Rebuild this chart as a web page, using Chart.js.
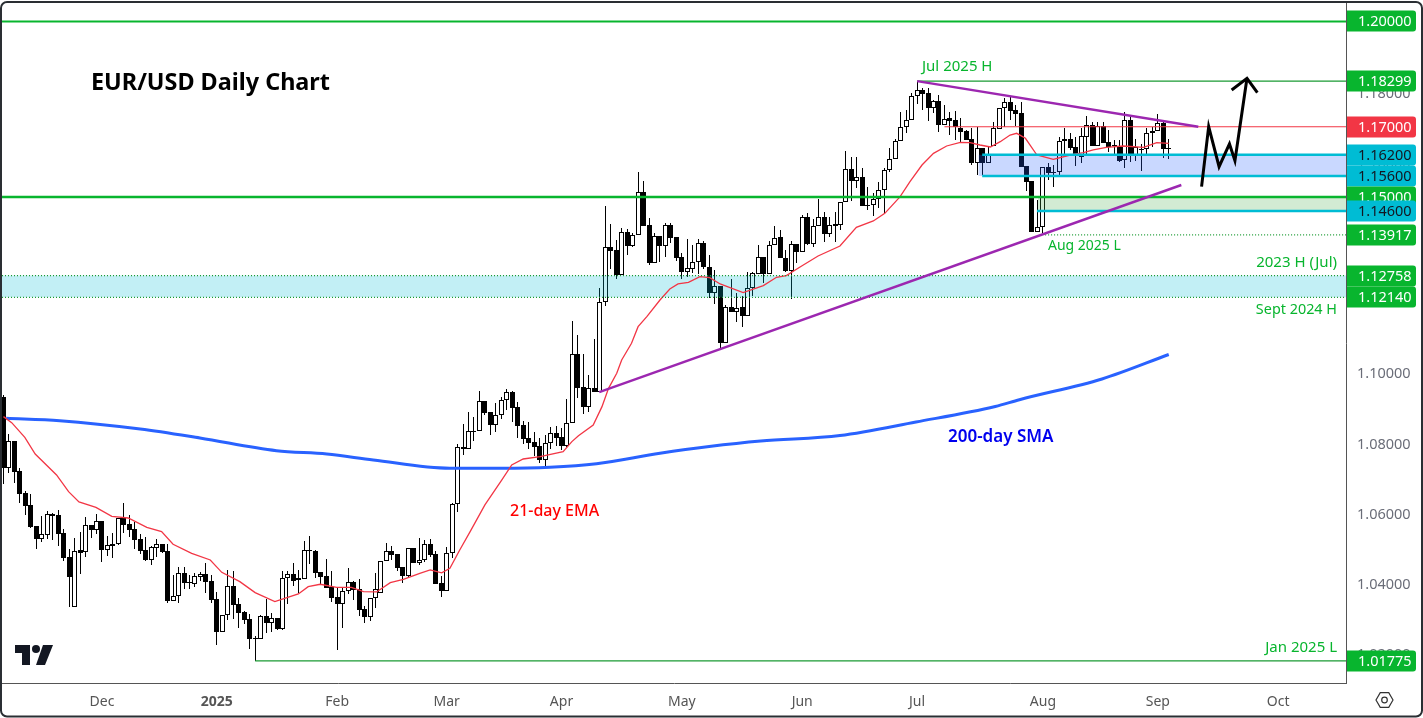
<!DOCTYPE html>
<html>
<head>
<meta charset="utf-8">
<title>EUR/USD Daily Chart</title>
<script src="https://cdn.jsdelivr.net/npm/chart.js@4"></script>
<style>
  html, body { margin: 0; padding: 0; background: #fff; }
  canvas { display: block; }
</style>
</head>
<body>
<canvas id="chart" width="1423" height="718"></canvas>
<script>
// daily candles
const opens = [
  1.09289,1.07265,1.08044,1.07189,1.06553,1.06211,1.05622,1.05261,1.05375,1.05954,
  1.05935,1.05413,1.04729,1.03304,1.04928,1.04871,1.05650,1.05517,1.05755,1.04947,
  1.05109,1.05099,1.05840,1.05679,1.05536,1.05251,1.04928,1.04662,1.05005,1.05109,
  1.04900,1.03494,1.03617,1.04273,1.04026,1.03978,1.04178,1.04254,1.04045,1.03541,
  1.02610,1.03076,1.03912,1.03390,1.03172,1.02972,1.02431,1.02412,1.03058,1.02868,
  1.03001,1.02697,1.04131,1.04245,1.04074,1.04122,1.04939,1.04910,1.04302,1.04188,
  1.03884,1.03590,1.03409,1.03761,1.04017,1.03818,1.03248,1.03039,1.03561,1.03723,
  1.04616,1.04901,1.04825,1.04445,1.04207,1.04986,1.04578,1.04644,1.05100,1.04825,
  1.03989,1.03761,1.04844,1.06250,1.07864,1.07807,1.08310,1.08320,1.09175,1.08862,
  1.08510,1.08776,1.09203,1.09431,1.09004,1.08491,1.08120,1.08006,1.07892,1.07512,
  1.07978,1.08263,1.08149,1.07911,1.08548,1.10524,1.09574,1.09023,1.09545,1.09450,
  1.11996,1.13564,1.13488,1.12785,1.13991,1.13611,1.13925,1.15131,1.14191,1.13127,
  1.13877,1.13611,1.14191,1.13849,1.13279,1.12870,1.12956,1.13136,1.13678,1.12994,
  1.12272,1.12452,1.10847,1.11854,1.11730,1.11854,1.11616,1.12395,1.12813,1.13279,
  1.12794,1.13621,1.13849,1.13250,1.12889,1.13659,1.13440,1.14419,1.13668,1.14162,
  1.14419,1.13934,1.14219,1.14210,1.14846,1.15806,1.15464,1.15578,1.14780,1.14780,
  1.14932,1.15188,1.15758,1.16072,1.16585,1.16984,1.17183,1.17867,1.18038,1.17953,
  1.17544,1.17734,1.17060,1.17250,1.17183,1.16974,1.16879,1.16651,1.15977,1.16385,
  1.15958,1.16452,1.16946,1.17525,1.17696,1.17468,1.17383,1.15872,1.15454,1.14010,
  1.14134,1.15844,1.15720,1.15720,1.16585,1.16642,1.16414,1.16129,1.16718,1.17041,
  1.16461,1.17012,1.16556,1.16442,1.16452,1.16043,1.17183,1.16167,1.16366,1.16357,
  1.16813,1.16870,1.17107,1.16385
];
const highs = [
  1.09355,1.08234,1.08044,1.07265,1.06610,1.06524,1.05622,1.05907,1.06049,1.06002,
  1.06068,1.05527,1.04966,1.05270,1.05441,1.05869,1.05650,1.05954,1.05755,1.05327,
  1.05413,1.05840,1.06277,1.05926,1.05745,1.05384,1.05299,1.05061,1.05251,1.05109,
  1.05109,1.04225,1.04444,1.04453,1.04225,1.04292,1.04320,1.04567,1.04216,1.03741,
  1.03076,1.04358,1.04339,1.03571,1.03200,1.03105,1.02488,1.03077,1.03533,1.03134,
  1.03001,1.04340,1.04340,1.04559,1.04369,1.05195,1.05338,1.04939,1.04302,1.04682,
  1.04331,1.03865,1.03846,1.04416,1.04055,1.04112,1.03343,1.03561,1.04283,1.04616,
  1.05129,1.05062,1.04825,1.04445,1.05005,1.04986,1.05271,1.05224,1.05252,1.04910,
  1.04198,1.05034,1.06269,1.07959,1.08519,1.08871,1.08738,1.09469,1.09175,1.08862,
  1.09118,1.09289,1.09526,1.09479,1.09165,1.08605,1.08586,1.08301,1.08120,1.08215,
  1.08434,1.08472,1.08405,1.09251,1.11464,1.11065,1.10514,1.09925,1.10951,1.12395,
  1.14742,1.14229,1.13773,1.14105,1.14077,1.13982,1.15701,1.15445,1.14390,1.13963,
  1.13877,1.14248,1.14248,1.13849,1.13393,1.13792,1.13630,1.13792,1.13754,1.13345,
  1.12918,1.12452,1.11920,1.12661,1.12262,1.12167,1.12851,1.12851,1.13630,1.13279,
  1.13744,1.14172,1.14058,1.13488,1.13744,1.13659,1.14485,1.14552,1.14362,1.14941,
  1.14580,1.14438,1.14561,1.14846,1.16300,1.16129,1.16129,1.15815,1.15274,1.15103,
  1.15416,1.15815,1.16385,1.16642,1.17430,1.17478,1.17972,1.18299,1.18095,1.18095,
  1.17763,1.17905,1.17620,1.17430,1.17459,1.17240,1.16908,1.16955,1.17003,1.16385,
  1.16452,1.17145,1.17525,1.17810,1.17839,1.17620,1.17696,1.15872,1.15454,1.14913,
  1.15863,1.15958,1.15910,1.16718,1.16955,1.16813,1.16718,1.16955,1.17307,1.17145,
  1.17126,1.17145,1.16908,1.16623,1.16623,1.17411,1.17288,1.16642,1.16509,1.16974,
  1.17003,1.17364,1.17145,1.16651
];
const lows = [
  1.06819,1.07142,1.06857,1.06287,1.05945,1.05555,1.04966,1.05175,1.05261,1.05223,
  1.05061,1.04624,1.03313,1.03304,1.04263,1.04748,1.05280,1.05394,1.04605,1.04776,
  1.04719,1.05080,1.05422,1.05299,1.04966,1.04824,1.04634,1.04520,1.04748,1.04843,
  1.03437,1.03484,1.03437,1.03826,1.03826,1.03893,1.04054,1.03722,1.03437,1.02240,
  1.02610,1.02943,1.02981,1.02725,1.02839,1.02127,1.01775,1.02393,1.02573,1.02611,
  1.02659,1.02668,1.03400,1.03913,1.03704,1.04122,1.04540,1.04150,1.03941,1.03865,
  1.03466,1.02098,1.02725,1.03685,1.03514,1.03058,1.02868,1.02925,1.03276,1.03723,
  1.04616,1.04654,1.04350,1.04008,1.04179,1.04559,1.04511,1.04606,1.04749,1.03979,
  1.03609,1.03761,1.04720,1.06031,1.07655,1.07807,1.08054,1.08320,1.08776,1.08225,
  1.08301,1.08681,1.08937,1.08595,1.08120,1.07968,1.07807,1.07617,1.07427,1.07341,
  1.07807,1.07902,1.07788,1.07883,1.08548,1.09260,1.08823,1.08880,1.09450,1.09450,
  1.11901,1.12956,1.12652,1.12785,1.13345,1.13583,1.13925,1.14181,1.13070,1.13127,
  1.13146,1.13298,1.13697,1.13175,1.12671,1.12728,1.12823,1.12804,1.12956,1.12120,
  1.11949,1.10685,1.10847,1.11730,1.11445,1.11303,1.11616,1.12186,1.12813,1.12538,
  1.12794,1.13621,1.13250,1.12870,1.12101,1.13108,1.13440,1.13630,1.13583,1.14162,
  1.13725,1.13868,1.13725,1.14058,1.14846,1.14894,1.15245,1.14742,1.14628,1.14466,
  1.14694,1.14533,1.15720,1.16072,1.16585,1.16813,1.17183,1.17639,1.17478,1.17174,
  1.17383,1.16860,1.17050,1.16765,1.16623,1.16575,1.16623,1.15910,1.15625,1.15625,
  1.15958,1.16452,1.16927,1.17003,1.17193,1.17031,1.15863,1.15160,1.14010,1.14010,
  1.13963,1.15483,1.15274,1.15625,1.16167,1.16338,1.15882,1.15958,1.16195,1.16452,
  1.16461,1.16528,1.16290,1.16195,1.16005,1.15834,1.16005,1.16034,1.15749,1.16224,
  1.16433,1.16870,1.16119,1.16081
];
const closes = [
  1.07265,1.08044,1.07170,1.06543,1.06201,1.05603,1.05261,1.05384,1.05954,1.05916,
  1.05403,1.04719,1.04178,1.04919,1.04862,1.05641,1.05517,1.05755,1.04947,1.05071,
  1.05061,1.05840,1.05660,1.05517,1.05232,1.04909,1.04653,1.05014,1.05099,1.04890,
  1.03494,1.03617,1.04273,1.04007,1.03988,1.04187,1.04244,1.04035,1.03522,1.02610,
  1.03076,1.03902,1.03380,1.03153,1.02953,1.02412,1.02412,1.03048,1.02868,1.02991,
  1.02697,1.04131,1.04245,1.04065,1.04131,1.04929,1.04920,1.04293,1.04179,1.03865,
  1.03580,1.03409,1.03761,1.04017,1.03808,1.03238,1.03039,1.03561,1.03818,1.04616,
  1.04901,1.04806,1.04435,1.04207,1.04986,1.04578,1.04654,1.05100,1.04806,1.03979,
  1.03761,1.04844,1.06240,1.07864,1.07807,1.08320,1.08329,1.09175,1.08852,1.08510,
  1.08776,1.09203,1.09431,1.08994,1.08481,1.08111,1.07987,1.07883,1.07512,1.07978,
  1.08263,1.08139,1.07911,1.08548,1.10514,1.09564,1.09023,1.09545,1.09450,1.11996,
  1.13564,1.13469,1.12785,1.13991,1.13611,1.13925,1.15131,1.14181,1.13127,1.13877,
  1.13611,1.14191,1.13839,1.13270,1.12870,1.12965,1.13136,1.13678,1.12994,1.12272,
  1.12452,1.10847,1.11854,1.11730,1.11844,1.11616,1.12395,1.12823,1.13279,1.12794,
  1.13621,1.13839,1.13250,1.12889,1.13649,1.13440,1.14419,1.13668,1.14162,1.14419,
  1.13934,1.14191,1.14181,1.14846,1.15806,1.15464,1.15578,1.14742,1.14761,1.14932,
  1.15188,1.15758,1.16072,1.16585,1.16984,1.17183,1.17867,1.18038,1.17943,1.17544,
  1.17725,1.17060,1.17231,1.17174,1.16993,1.16851,1.16632,1.15977,1.16385,1.15958,
  1.16205,1.16955,1.17525,1.17696,1.17459,1.17364,1.15863,1.15435,1.14010,1.14134,
  1.15844,1.15692,1.15692,1.16585,1.16642,1.16395,1.16224,1.16727,1.17041,1.16461,
  1.17012,1.16547,1.16433,1.16490,1.16034,1.17183,1.16167,1.16414,1.16347,1.16813,
  1.16870,1.17107,1.16376,1.16366
];

// 21-day EMA, read at these candle positions
const emaIdx = [0,1.5,3.9,5.8,9.7,11.9,13.8,16.9,19.8,22.8,26.2,28.9,31,34.4,37.8,39.9,43.2,46,49.6,53.9,55.7,57.9,60.9,63.6,65.8,68.2,70.7,73.1,76.1,78,80.1,81.6,83.4,85.3,88,91.1,92.9,95,98.1,102.3,103.9,105.1,107.8,109.4,110.6,112.1,113,114.8,116,117.6,120,121.8,123.3,125.2,127.3,129.1,131,135.2,138.9,141.3,143.1,145.9,148.9,152.9,155.9,159,161.1,163.9,165.7,167.9,170,172.4,174.9,176.7,178.5,180.4,182.2,184,185.2,186.8,188.9,191.9,195,197.4,199.2,201.6,204.7,208.4,210.8,213];
const emaVal = [1.08738,1.08567,1.08149,1.07674,1.07076,1.06601,1.06306,1.06154,1.05898,1.05850,1.05584,1.05461,1.05100,1.04843,1.04653,1.04301,1.04035,1.03723,1.03466,1.03685,1.03894,1.03961,1.03875,1.03875,1.03751,1.03742,1.04008,1.04103,1.04274,1.04369,1.04284,1.04416,1.04939,1.05462,1.06221,1.06933,1.07360,1.07531,1.07598,1.07740,1.08026,1.08196,1.08500,1.09023,1.09545,1.09973,1.10353,1.10828,1.11303,1.11588,1.12063,1.12376,1.12519,1.12566,1.12728,1.12700,1.12519,1.12272,1.12472,1.12709,1.12757,1.13032,1.13317,1.13602,1.14134,1.14315,1.14533,1.15008,1.15436,1.15910,1.16243,1.16452,1.16557,1.16547,1.16480,1.16423,1.16575,1.16765,1.16813,1.16671,1.16195,1.16072,1.16195,1.16262,1.16338,1.16414,1.16452,1.16414,1.16547,1.16528];

// 200-day SMA
const smaIdx = [0.5,10.3,25,35.9,49.9,59.1,67.6,81.6,90.8,99.9,108.4,120,129,138.4,152.9,166.8,181.3,185.7,200.8,213];
const smaVal = [1.08691,1.08623,1.08386,1.08130,1.07768,1.07674,1.07503,1.07266,1.07266,1.07295,1.07397,1.07694,1.07887,1.08044,1.08201,1.08586,1.09027,1.09221,1.09811,1.10509];

// drawn trend lines and the forecast arrow
const fallLineIdx = [167, 218.4];
const fallLineVal = [1.18299, 1.17];
const riseLineIdx = [108.9, 215.3];
const riseLineVal = [1.0944, 1.1534];
const arrowIdx = [219, 220.3, 222.2, 224.1, 225.1, 227.3];
const arrowVal = [1.15292, 1.17002, 1.15862, 1.16509, 1.16033, 1.18381];
const arrowHeadIdx = [224.5, 227.3, 229.2];
const arrowHeadVal = [1.18048, 1.18381, 1.17971];

// axes (1.12 sits behind the 1.12140 tag in the original)
const priceTicks = [1.02, 1.04, 1.06, 1.08, 1.10, 1.14, 1.16, 1.18, 1.20];
const monthIdx = [18, 39, 61, 81, 102, 124, 146, 167, 190, 211, 233];
const monthLabels = ['Dec', '2025', 'Feb', 'Mar', 'Apr', 'May', 'Jun', 'Jul', 'Aug', 'Sep', 'Oct'];

// price tags on the right axis
const tagPrices = [1.20000, 1.18299, 1.17000, 1.16200, 1.15600, 1.15000, 1.14600, 1.13917, 1.12758, 1.12140, 1.01775];
const tagKinds = ['g', 'g', 'r', 'c', 'c', 'g', 'c', 'g', 'g', 'g', 'g'];

const GREEN = '#08b52e', THIN_GREEN = '#1a9a33', CYAN = '#00bcd4', RED = '#f23645', PURPLE = '#9c27b0';
const FONT = '"Noto Sans", sans-serif';
const firstIdx = -0.27, lastIdx = 245.4;

function pts(xs, ys) { return xs.map((x, i) => ({ x, y: ys[i] })); }

function lineSet(data, color, width, order, extra) {
    return Object.assign({
        type: 'line', data, borderColor: color, borderWidth: width, order,
        pointRadius: 0, fill: false, tension: 0, borderCapStyle: 'butt'
    }, extra || {});
}
function level(from, price, color, width, dash) {
    return lineSet(pts([from, lastIdx], [price, price]), color, width, 20, { borderDash: dash || [] });
}
function zone(from, top, bottom, color) {
    return lineSet(pts([from, lastIdx], [top, top]), 'transparent', 0, 30, { fill: { value: bottom }, backgroundColor: color });
}

const wickData = opens.map((_, i) => ({ x: i, y: [lows[i], highs[i]] }));
const bodyData = opens.map((o, i) => ({ x: i, y: [Math.min(o, closes[i]), Math.max(o, closes[i])] }));
const bodyColors = opens.map((o, i) => closes[i] >= o ? '#ffffff' : '#000000');

// snap candles to whole pixels so that they stay sharp
const snapCandles = {
    id: 'snapCandles',
    beforeDatasetsDraw(chart) {
        chart.data.datasets.forEach((ds, n) => {
            if (ds.type !== 'bar') return;
            chart.getDatasetMeta(n).data.forEach(el => {
                el.x = Math.floor(el.x) + 0.5;
                el.y = Math.round(el.y);
                el.base = Math.round(el.base);
                if (el.base === el.y) el.base = el.y + 1;
            });
        });
    }
};

const overlay = {
    id: 'overlay',
    afterDraw(chart) {
        const c = chart.ctx, yS = chart.scales.y;
        c.save();

        // free labels
        const text = (s, x, y, font, color, align) => {
            c.font = font; c.fillStyle = color; c.textAlign = align || 'left'; c.textBaseline = 'middle';
            c.fillText(s, x, y);
        };
        text('EUR/USD Daily Chart', 91, 83, 'bold 23.4px ' + FONT, '#000');
        text('Jul 2025 H', 922, 67, '15px ' + FONT, GREEN);
        text('Aug 2025 L', 1048, 246, '14px ' + FONT, GREEN);
        text('2023 H (Jul)', 1337, 263, '15px ' + FONT, GREEN, 'right');
        text('Sept 2024 H', 1337, 310, '14.4px ' + FONT, GREEN, 'right');
        text('Jan 2025 L', 1337, 648, '15px ' + FONT, GREEN, 'right');
        text('21-day EMA', 510, 511, '500 16px ' + FONT, '#f00');
        text('200-day SMA', 948, 437, '600 17px ' + FONT, '#0000ee');

        // tags
        tagPrices.forEach((p, i) => {
            const y = Math.round(yS.getPixelForValue(p)), kind = tagKinds[i];
            c.fillStyle = kind === 'g' ? GREEN : kind === 'r' ? RED : CYAN;
            c.beginPath();
            c.roundRect(1347, y - 10.5, 69, 21, [0, 3, 3, 0]);
            c.fill();
            text(p.toFixed(5), 1358, y + 0.5, '14.5px ' + FONT, kind === 'c' ? '#131722' : '#fff');
        });

        // TradingView mark
        c.fillStyle = '#131722';
        c.beginPath();
        c.moveTo(15, 645); c.lineTo(30, 645); c.lineTo(30, 665); c.lineTo(22, 665); c.lineTo(22, 653); c.lineTo(15, 653);
        c.closePath(); c.fill();
        c.beginPath(); c.arc(36, 649, 4, 0, Math.PI * 2); c.fill();
        c.beginPath();
        c.moveTo(43, 645); c.lineTo(53, 645); c.lineTo(45, 665); c.lineTo(36, 665);
        c.closePath(); c.fill();

        // settings icon
        c.strokeStyle = '#333'; c.lineWidth = 1.2;
        c.beginPath();
        for (let a = 0; a < 6; a++) {
            const ang = a * Math.PI / 3;
            const px = 1384.5 + 8.5 * Math.cos(ang), py = 700 + 8.5 * Math.sin(ang);
            if (a === 0) c.moveTo(px, py); else c.lineTo(px, py);
        }
        c.closePath(); c.stroke();
        c.beginPath(); c.arc(1384.5, 700, 2.8, 0, Math.PI * 2); c.stroke();

        // window frame
        c.strokeStyle = '#2a2e33'; c.lineWidth = 2;
        c.beginPath(); c.roundRect(1, 2, 1421, 714.5, 6); c.stroke();
        c.restore();
    }
};

new Chart(document.getElementById('chart'), {
    type: 'bar',
    data: {
        datasets: [
            { type: 'bar', data: wickData, backgroundColor: '#000', barThickness: 1, inflateAmount: 0, grouped: false, order: 60, borderWidth: 0 },
            { type: 'bar', data: bodyData, backgroundColor: bodyColors, borderColor: '#000', borderWidth: 1, borderSkipped: false, barThickness: 5, inflateAmount: 0, grouped: false, order: 50 },
            lineSet(pts(smaIdx, smaVal), '#2962ff', 3, 40, { cubicInterpolationMode: 'monotone' }),
            lineSet(pts(emaIdx, emaVal), '#f23645', 1.3, 25),
            zone(178.2, 1.162, 1.156, 'rgba(41,98,255,0.25)'),
            zone(189.1, 1.15, 1.146, 'rgba(76,175,80,0.25)'),
            zone(firstIdx, 1.12758, 1.1214, 'rgba(0,188,212,0.24)'),
            level(firstIdx, 1.2, GREEN, 2),
            level(167, 1.18299, THIN_GREEN, 1.3),
            level(172, 1.17, RED, 1.2),
            level(178.9, 1.162, CYAN, 2.5),
            level(178.9, 1.156, CYAN, 2.5),
            level(firstIdx, 1.15, GREEN, 2.5),
            level(188.9, 1.146, CYAN, 2.5),
            level(190.4, 1.13917, THIN_GREEN, 1.3, [1, 2]),
            level(firstIdx, 1.12758, THIN_GREEN, 1.3, [1, 2]),
            level(firstIdx, 1.1214, THIN_GREEN, 1.3, [1, 2]),
            level(46, 1.01775, THIN_GREEN, 1.3),
            lineSet(pts(fallLineIdx, fallLineVal), PURPLE, 2.4, 10),
            lineSet(pts(riseLineIdx, riseLineVal), PURPLE, 2.4, 10),
            lineSet(pts(arrowIdx, arrowVal), '#000', 3, 5, { borderJoinStyle: 'miter' }),
            lineSet(pts(arrowHeadIdx, arrowHeadVal), '#000', 3, 5, { borderJoinStyle: 'miter' })
        ]
    },
    options: {
        responsive: false,
        animation: false,
        devicePixelRatio: 1,
        layout: { padding: { left: 2, top: 3, right: 0, bottom: 0 } },
        plugins: { legend: { display: false }, tooltip: { enabled: false } },
        events: [],
        scales: {
            x: {
                type: 'linear', min: firstIdx, max: lastIdx, offset: false,
                grid: { display: false, offset: false },
                border: { display: true, color: '#555', width: 1 },
                afterBuildTicks(s) { s.ticks = monthIdx.map(value => ({ value })); },
                afterFit(s) { s.height = 35; s.paddingLeft = 0; s.paddingRight = 0; },
                ticks: {
                    autoSkip: false, maxRotation: 0, minRotation: 0, color: '#555', padding: 3,
                    font: ctx => ({ family: FONT, size: 14, weight: ctx.index === 1 ? 'bold' : 'normal' }),
                    callback: (v, i) => monthLabels[i]
                }
            },
            y: {
                type: 'linear', position: 'right', min: 1.01147, max: 1.20527,
                grid: { display: false },
                border: { display: true, color: '#555', width: 1 },
                afterBuildTicks(s) { s.ticks = priceTicks.map(value => ({ value })); },
                afterFit(s) { s.width = 77; s.paddingTop = 0; s.paddingBottom = 0; },
                ticks: {
                    autoSkip: false, color: '#6a6d78', padding: 3, align: 'center', labelOffset: 2,
                    font: { family: FONT, size: 14.5 },
                    callback: v => v.toFixed(5)
                }
            }
        }
    },
    plugins: [snapCandles, overlay]
});
</script>
</body>
</html>
